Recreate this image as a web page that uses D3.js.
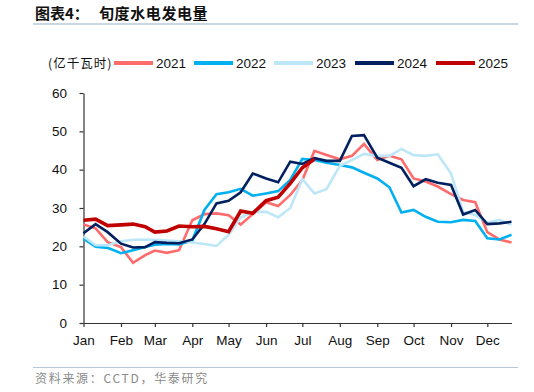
<!DOCTYPE html>
<html lang="zh">
<head>
<meta charset="UTF-8">
<script src="https://d3js.org/d3.v7.min.js"></script>
<title>旬度水电发电量</title>
<style>
  body { margin: 0; background: #fff; }
  svg { display: block; font-family: "Liberation Sans", Arial, "Noto Sans CJK SC", sans-serif; }
</style>
</head>
<body>
<div id="viz"></div>
<script>
// dekad start dates (month-day)
const dekads = ["01-01","01-11","01-21","02-01","02-11","02-21","03-01","03-11","03-21",
  "04-01","04-11","04-21","05-01","05-11","05-21","06-01","06-11","06-21",
  "07-01","07-11","07-21","08-01","08-11","08-21","09-01","09-11","09-21",
  "10-01","10-11","10-21","11-01","11-11","11-21","12-01","12-11","12-21"]

const years = ["2021", "2022", "2023", "2024", "2025"]
const yTicks = [0, 10, 20, 30, 40, 50, 60]

const v2021 = [25.7, 24.7, 21.1, 19.8, 15.7, 17.7, 18.9, 18.3, 19.0, 26.8, 28.4, 28.6,
  28.1, 25.7, 28.4, 31.5, 30.5, 33.4, 37.3, 44.9, 43.8, 42.7, 43.6, 46.7,
  42.5, 43.6, 42.7, 37.7, 36.9, 35.6, 33.6, 32.1, 31.5, 23.7, 21.8, 21.0]
const v2022 = [22.0, 19.9, 19.6, 18.2, 19.0, 19.8, 20.4, 20.6, 20.5, 21.5, 29.5, 33.6,
  34.1, 35.0, 33.2, 33.8, 34.4, 37.3, 42.8, 42.5, 41.8, 41.2, 40.6, 39.2,
  37.7, 35.4, 28.8, 29.5, 27.7, 26.4, 26.3, 26.9, 26.6, 22.1, 21.8, 23.0]
const v2023 = [22.6, 20.3, 20.3, 21.3, 21.7, 21.8, 21.7, 21.5, 21.3, 21.0, 20.6, 20.1,
  23.0, 27.5, 29.0, 29.0, 27.6, 30.0, 37.5, 33.8, 34.9, 41.0, 42.5, 44.1,
  43.6, 43.6, 45.4, 43.8, 43.6, 44.0, 39.0, 29.0, 28.2, 26.2, 26.9, 25.6]
const v2024 = [23.4, 25.8, 23.7, 20.7, 19.7, 19.8, 21.1, 20.9, 20.8, 21.8, 25.8, 31.2,
  31.9, 34.1, 39.0, 37.7, 36.7, 42.1, 41.5, 43.0, 42.3, 42.3, 48.8, 49.0,
  43.1, 41.8, 40.5, 35.7, 37.5, 36.6, 36.0, 28.3, 29.5, 25.8, 26.0, 26.4]
const v2025 = [26.8, 27.1, 25.4, 25.6, 25.8, 25.1, 23.7, 24.0, 25.3, 25.1, 25.2, 24.6,
  23.8, 29.2, 28.6, 31.9, 32.8, 36.4, 40.5, 42.8]

const colors = ["#FF6B6B", "#00B0F0", "#BDE7F8", "#002060", "#C00000"]
const widths = [2.6, 2.6, 2.6, 2.6, 3.6]
const allSeries = [v2021, v2022, v2023, v2024, v2025]

const width = 534, height = 392
const margin = {top: 93, left: 83.5, right: 22.5, bottom: 69}

const svg = d3.select("#viz").append("svg")
  .attr("width", width).attr("height", height)

const parseDay = d3.timeParse("%m-%d")
const dates = dekads.map(parseDay)

const xScale = d3.scaleTime()
  .domain([dates[0], dates[dates.length - 1]])
  .range([margin.left, width - margin.right])
const yScale = d3.scaleLinear()
  .domain([0, 60])
  .range([height - margin.bottom, margin.top])

// title + rules
svg.append("text")
  .attr("x", 35).attr("y", 19)
  .attr("font-family", "'Noto Sans CJK SC', sans-serif")
  .attr("font-weight", "bold").attr("font-size", 15)
  .attr("fill", "#111")
  .call(t => {
    t.append("tspan").text("图表4：")
    t.append("tspan").attr("x", 99).attr("letter-spacing", 0.6).text("旬度水电发电量")
  })
svg.append("line").attr("x1", 33).attr("x2", 518).attr("y1", 24).attr("y2", 24)
  .attr("stroke", "#B7C8DA").attr("stroke-width", 1.5)
svg.append("line").attr("x1", 33).attr("x2", 518).attr("y1", 367.5).attr("y2", 367.5)
  .attr("stroke", "#B7C8DA").attr("stroke-width", 1.2)
svg.append("text")
  .attr("x", 35).attr("y", 383)
  .attr("font-family", "'Noto Sans CJK SC', sans-serif")
  .attr("font-size", 12).attr("letter-spacing", 1.7)
  .attr("fill", "#8a8a8a")
  .text("资料来源：CCTD，华泰研究")

// legend
const legend = svg.append("g").attr("font-size", 13.5).attr("fill", "#111")
legend.append("text")
  .attr("x", 48).attr("y", 67.5)
  .attr("font-family", "'Noto Sans CJK SC', sans-serif")
  .attr("font-size", 12.5).attr("letter-spacing", 1)
  .text("(亿千瓦时)")
const legendX = [114, 194, 274, 355, 436]
years.forEach((y, i) => {
  legend.append("line")
    .attr("x1", legendX[i]).attr("x2", legendX[i] + 39)
    .attr("y1", 63).attr("y2", 63)
    .attr("stroke", colors[i]).attr("stroke-width", 4)
  legend.append("text")
    .attr("x", legendX[i] + 42).attr("y", 67.8)
    .text(y)
})

// axes
const xAxis = svg.append("g")
  .attr("transform", `translate(0,${height - margin.bottom})`)
  .call(d3.axisBottom(xScale)
    .ticks(d3.timeMonth.every(1))
    .tickFormat(d3.timeFormat("%b"))
    .tickSize(4).tickSizeOuter(0).tickPadding(8))
const yAxis = svg.append("g")
  .attr("transform", `translate(${margin.left},0)`)
  .call(d3.axisLeft(yScale)
    .tickValues(yTicks)
    .tickSize(4).tickSizeOuter(0).tickPadding(12.5))
;[xAxis, yAxis].forEach(a => {
  a.select(".domain").attr("stroke", "#333").attr("stroke-width", 1.2)
  a.selectAll(".tick line").attr("stroke", "#333").attr("stroke-width", 1.2)
  a.selectAll(".tick text").attr("font-size", 13.5).attr("fill", "#111")
    .attr("font-family", "'Liberation Sans', Arial, sans-serif")
})

// lines
const lineGen = d3.line()
  .x((d, i) => xScale(dates[i]))
  .y(d => yScale(d))

svg.selectAll(".series")
  .data(allSeries)
  .enter()
  .append("path")
  .attr("class", "series")
  .attr("d", d => lineGen(d))
  .attr("fill", "none")
  .attr("stroke", (d, i) => colors[i])
  .attr("stroke-width", (d, i) => widths[i])
  .attr("stroke-linejoin", "miter")
</script>
</body>
</html>
